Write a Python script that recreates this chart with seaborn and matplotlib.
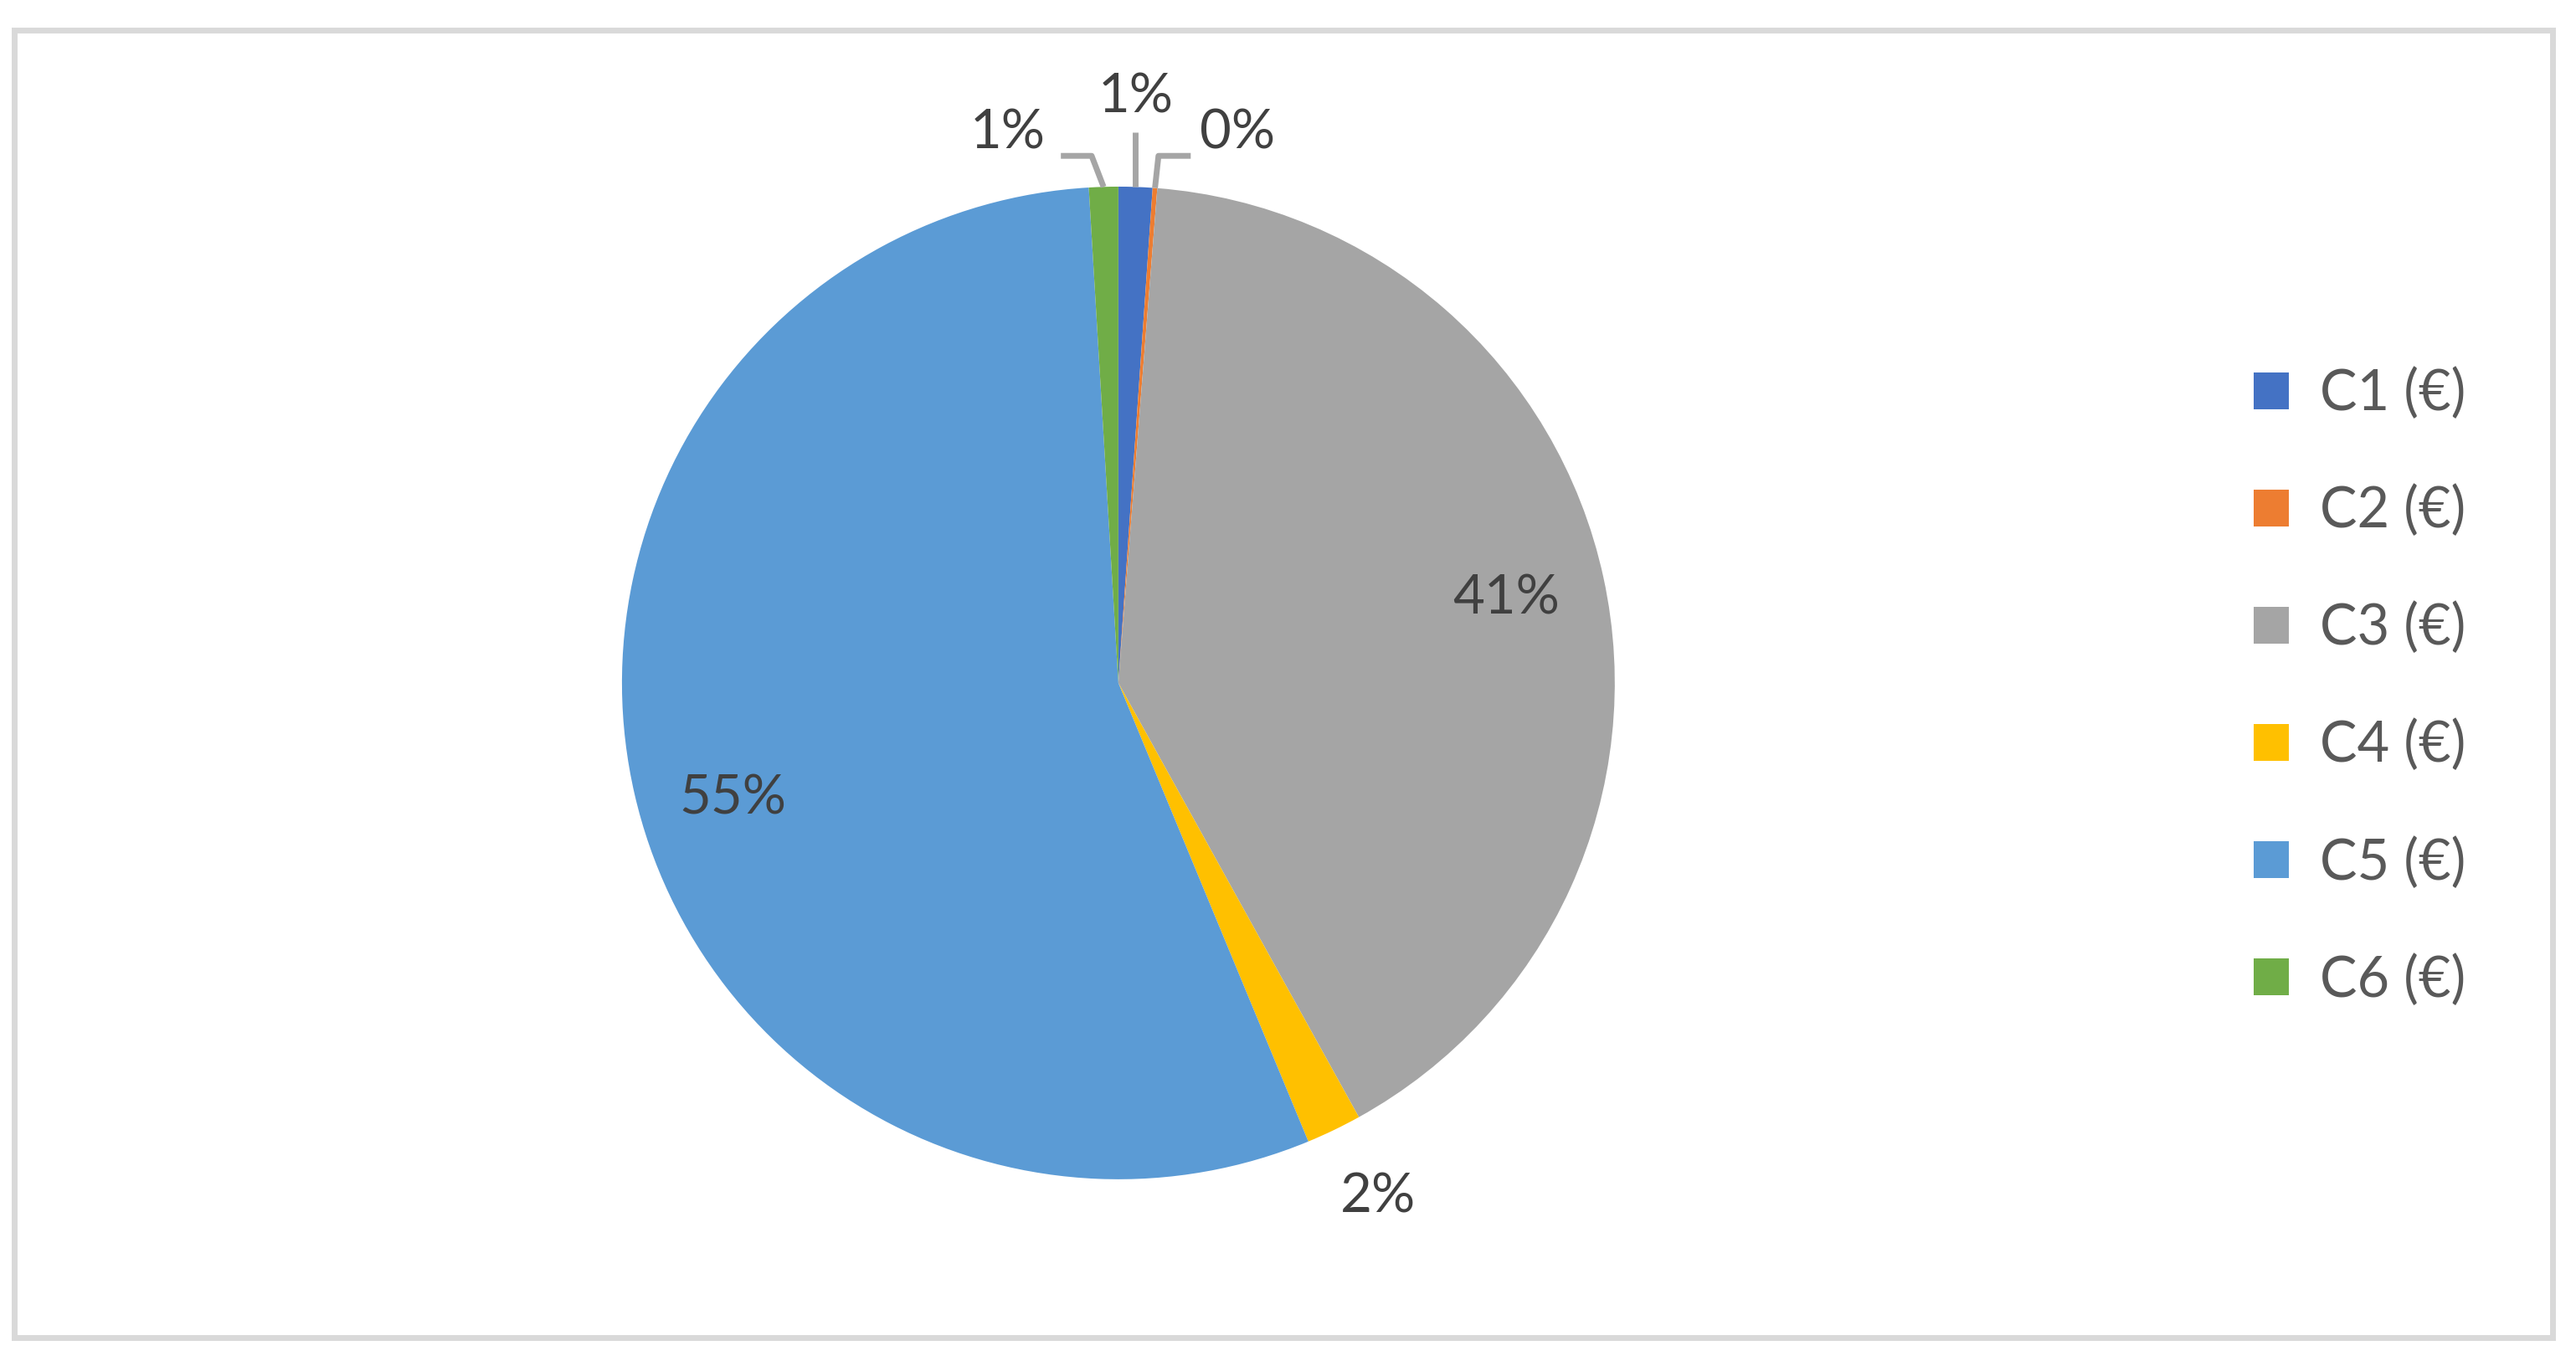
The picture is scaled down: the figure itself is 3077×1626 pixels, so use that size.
import numpy as np
import matplotlib
matplotlib.use("Agg")
import matplotlib.pyplot as plt
import seaborn as sns
from matplotlib.patches import Rectangle

# Data
categories = ['C1 (€)', 'C2 (€)', 'C3 (€)', 'C4 (€)', 'C5 (€)', 'C6 (€)']
shares = [1.1, 0.15, 40.7, 1.8, 55.3, 0.95]
colors = ['#4472C4', '#ED7D31', '#A5A5A5', '#FFC000', '#5B9BD5', '#70AD47']

sns.set_theme(style='white')
plt.rcParams['font.family'] = ['Lato', 'DejaVu Sans']

fig = plt.figure(figsize=(30.77, 16.26), dpi=100)
ax = fig.add_axes([0.174, 0.0059, 0.5203, 0.9846])

wedges, _ = ax.pie(shares, colors=colors, startangle=90, counterclock=False,
                   radius=1.0, wedgeprops=dict(linewidth=0))
ax.set_xlim(-1.35, 1.35)
ax.set_ylim(-1.35, 1.35)
ax.set_aspect('equal')
ax.axis('off')

total = sum(shares)
label_color = '#404040'
line_color = '#A5A5A5'
fs = 47

# Percent labels
for i, w in enumerate(wedges):
    mid_deg = (w.theta1 + w.theta2) / 2
    mid = np.deg2rad(mid_deg)
    cx, cy = np.cos(mid), np.sin(mid)
    txt = f"{shares[i] / total * 100:.0f}%"
    name = categories[i]
    if name == 'C3 (€)':
        ax.text(0.8 * cx, 0.8 * cy, txt, ha='center', va='center',
                fontsize=fs, color=label_color)
    elif name == 'C5 (€)':
        a = np.deg2rad(mid_deg + 3.7)
        ax.text(0.81 * np.cos(a), 0.81 * np.sin(a), txt, ha='center', va='center',
                fontsize=fs, color=label_color)
    elif name == 'C4 (€)':
        ax.text(1.16 * cx + 0.02, 1.16 * cy + 0.01, txt, ha='center', va='center',
                fontsize=fs, color=label_color)
    elif name == 'C1 (€)':
        ax.plot([cx, cx], [cy, 1.11], color=line_color, lw=5, solid_capstyle='butt')
        ax.text(cx, 1.18, txt, ha='center', va='center',
                fontsize=fs, color=label_color)
    elif name == 'C2 (€)':
        ax.plot([cx, cx + 0.007, cx + 0.072], [cy, 1.062, 1.062],
                color=line_color, lw=5, solid_capstyle='butt')
        ax.text(cx + 0.09, 1.108, txt, ha='left', va='center',
                fontsize=fs, color=label_color)
    elif name == 'C6 (€)':
        ax.plot([cx, cx - 0.024, cx - 0.086], [cy, 1.062, 1.062],
                color=line_color, lw=5, solid_capstyle='butt')
        ax.text(cx - 0.118, 1.108, txt, ha='right', va='center',
                fontsize=fs, color=label_color)

# Legend
leg = fig.legend(wedges, categories, loc='center left',
                 bbox_to_anchor=(0.875, 0.495), frameon=False,
                 fontsize=48, handlelength=0.63, handleheight=0.63,
                 handletextpad=0.55, labelspacing=1.16, borderpad=0,
                 borderaxespad=0)
for t in leg.get_texts():
    t.set_color('#595959')

# Chart border
fig.patches.append(Rectangle((17 / 3077, 1 - 1597.5 / 1626),
                             (3048.5 - 17) / 3077, (1597.5 - 36.5) / 1626,
                             transform=fig.transFigure, fill=False,
                             edgecolor='#D9D9D9', linewidth=5))

fig.savefig('out.png', dpi=100, facecolor='white')
